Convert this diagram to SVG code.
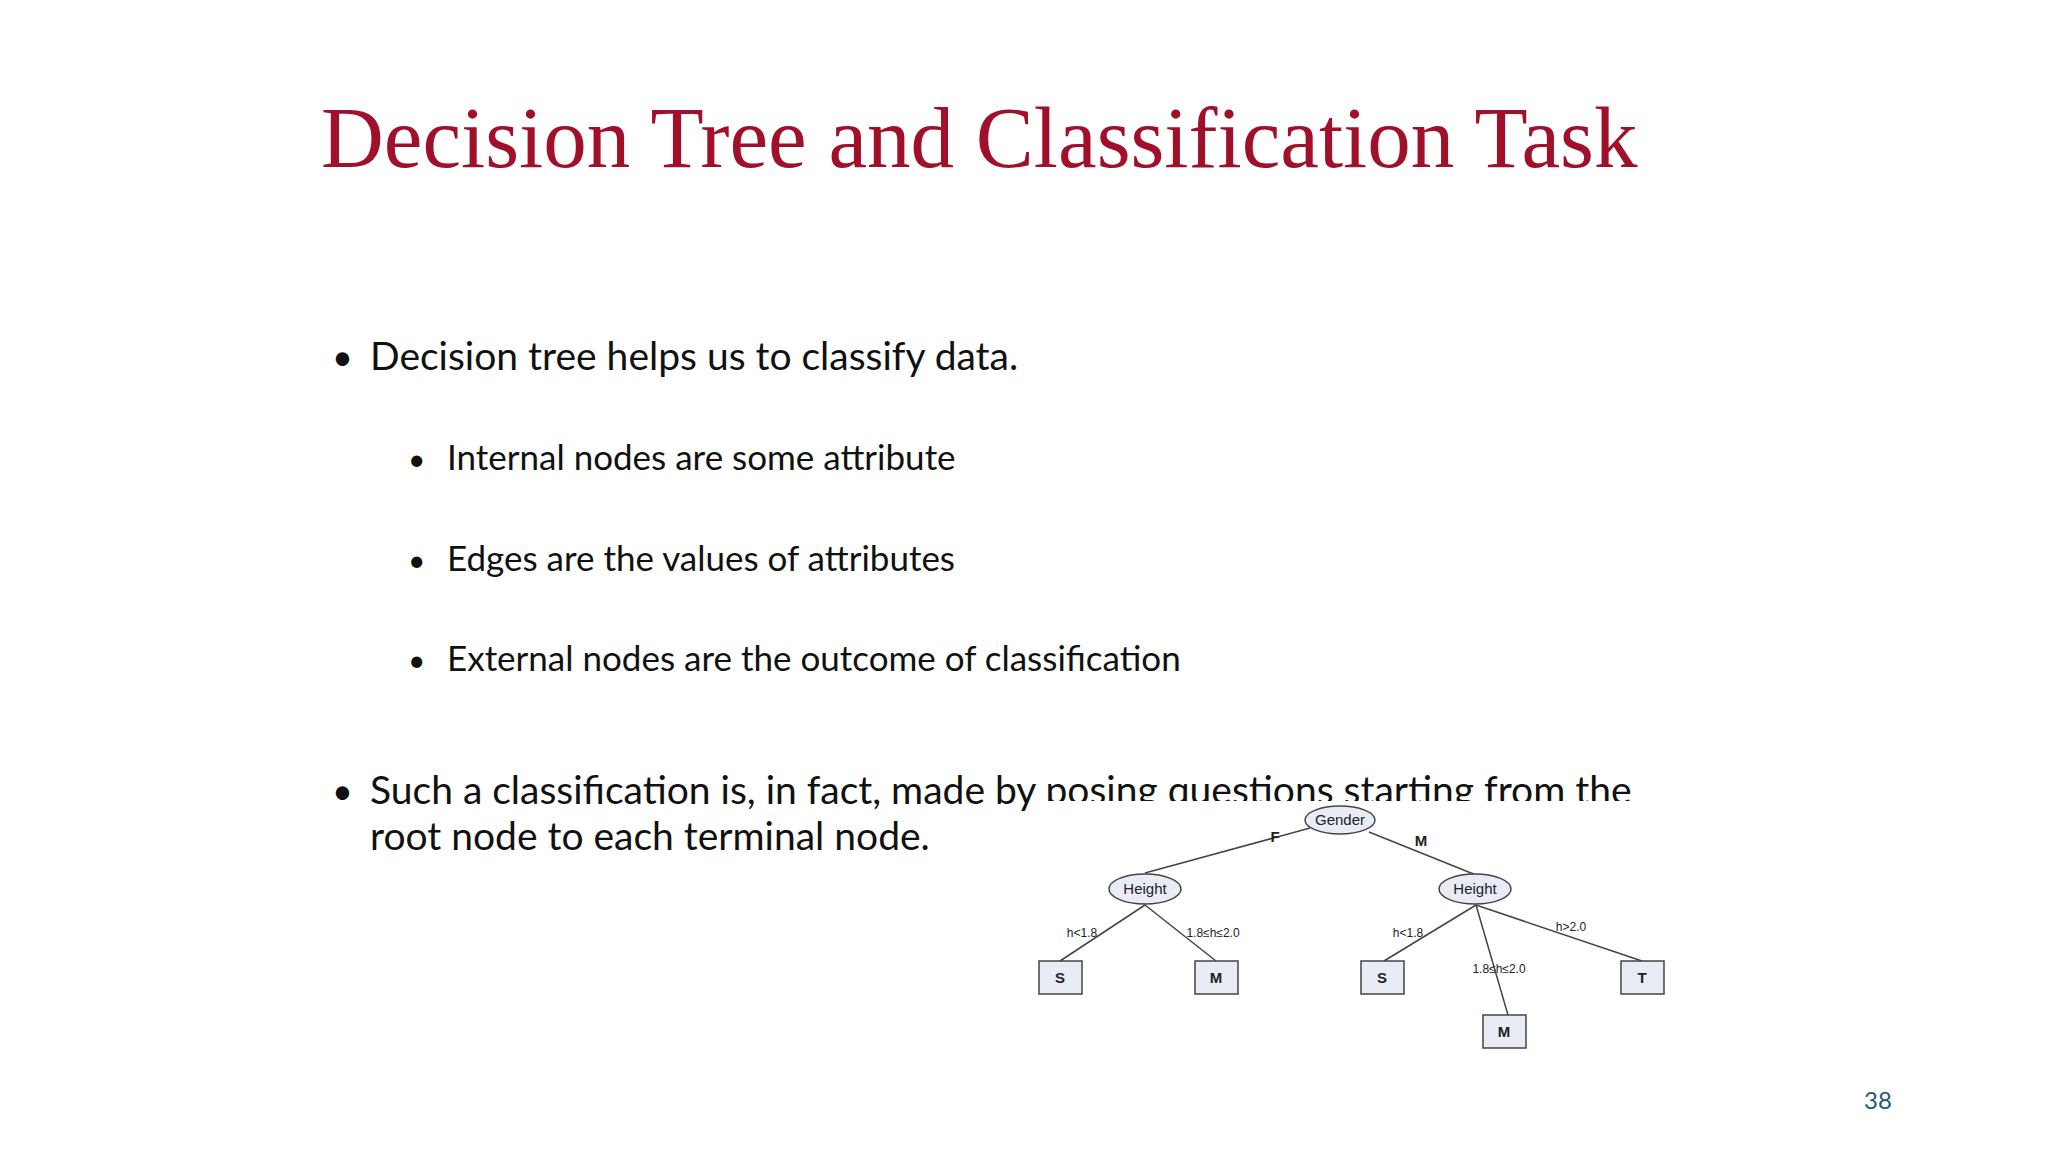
<svg xmlns="http://www.w3.org/2000/svg" width="2048" height="1152" viewBox="0 0 2048 1152">
<style>
.b{font-family:Lato,"Liberation Sans",sans-serif;fill:#111}
.n{fill:#e8ecf4;stroke:#444;stroke-width:1.5}
.t{font-family:"Liberation Sans",Arial,sans-serif;fill:#222;text-anchor:middle}
.e{stroke:#444;stroke-width:1.5}
</style>
<rect width="2048" height="1152" fill="#fff"/>
<text x="321" y="167" font-family="Liberation Serif,serif" font-size="87" fill="#a0102a">Decision Tree and Classification Task</text>
<g class="b">
<text x="332" y="370" font-size="36">•</text>
<text x="370" y="370" font-size="39">Decision tree helps us to classify data.</text>
<text x="408" y="470" font-size="30">•</text>
<text x="447" y="470" font-size="35">Internal nodes are some attribute</text>
<text x="408" y="571" font-size="30">•</text>
<text x="447" y="571" font-size="35">Edges are the values of attributes</text>
<text x="408" y="671" font-size="30">•</text>
<text x="447" y="671" font-size="35">External nodes are the outcome of classification</text>
<text x="332" y="804" font-size="36">•</text>
<text x="370" y="804" font-size="39">Such a classification is, in fact, made by posing questions starting from the</text>
<text x="370" y="850" font-size="39">root node to each terminal node.</text>
</g>
<rect x="1040" y="801" width="640" height="260" fill="#fff"/>
<g id="connectors" class="e">
<line x1="1310" y1="828" x2="1145" y2="873"/>
<line x1="1369" y1="832" x2="1476" y2="875"/>
<line x1="1145" y1="905" x2="1060" y2="961"/>
<line x1="1145" y1="905" x2="1216" y2="961"/>
<line x1="1476" y1="905" x2="1384" y2="961"/>
<line x1="1476" y1="905" x2="1508" y2="1015"/>
<line x1="1476" y1="905" x2="1642" y2="961"/>
</g>
<g class="t">
<text x="1275" y="842" font-size="15" font-weight="bold">F</text>
<text x="1421" y="846" font-size="15" font-weight="bold">M</text>
<text x="1082" y="937" font-size="12">h&lt;1.8</text>
<text x="1213" y="937" font-size="12">1.8≤h≤2.0</text>
<text x="1408" y="937" font-size="12">h&lt;1.8</text>
<text x="1571" y="931" font-size="12">h&gt;2.0</text>
<text x="1499" y="973" font-size="12">1.8≤h≤2.0</text>
</g>
<g id="gender"><ellipse class="n" cx="1340" cy="820" rx="35" ry="14"/><text class="t" x="1340" y="825" font-size="15">Gender</text></g>
<g id="height1"><ellipse class="n" cx="1145" cy="889" rx="36" ry="15"/><text class="t" x="1145" y="894" font-size="15">Height</text></g>
<g id="height2"><ellipse class="n" cx="1475" cy="889" rx="36" ry="15"/><text class="t" x="1475" y="894" font-size="15">Height</text></g>
<g id="s1"><rect class="n" x="1039" y="961" width="43" height="33"/><text class="t" x="1060" y="983" font-size="15" font-weight="bold">S</text></g>
<g id="m1"><rect class="n" x="1195" y="961" width="43" height="33"/><text class="t" x="1216" y="983" font-size="15" font-weight="bold">M</text></g>
<g id="s2"><rect class="n" x="1361" y="961" width="43" height="33"/><text class="t" x="1382" y="983" font-size="15" font-weight="bold">S</text></g>
<g id="t"><rect class="n" x="1621" y="961" width="43" height="33"/><text class="t" x="1642" y="983" font-size="15" font-weight="bold">T</text></g>
<g id="m2"><rect class="n" x="1483" y="1015" width="43" height="33"/><text class="t" x="1504" y="1037" font-size="15" font-weight="bold">M</text></g>
<text x="1878" y="1109" font-family="Lato,Liberation Sans,sans-serif" font-size="24" fill="#1f5a7a" text-anchor="middle">38</text>
</svg>
